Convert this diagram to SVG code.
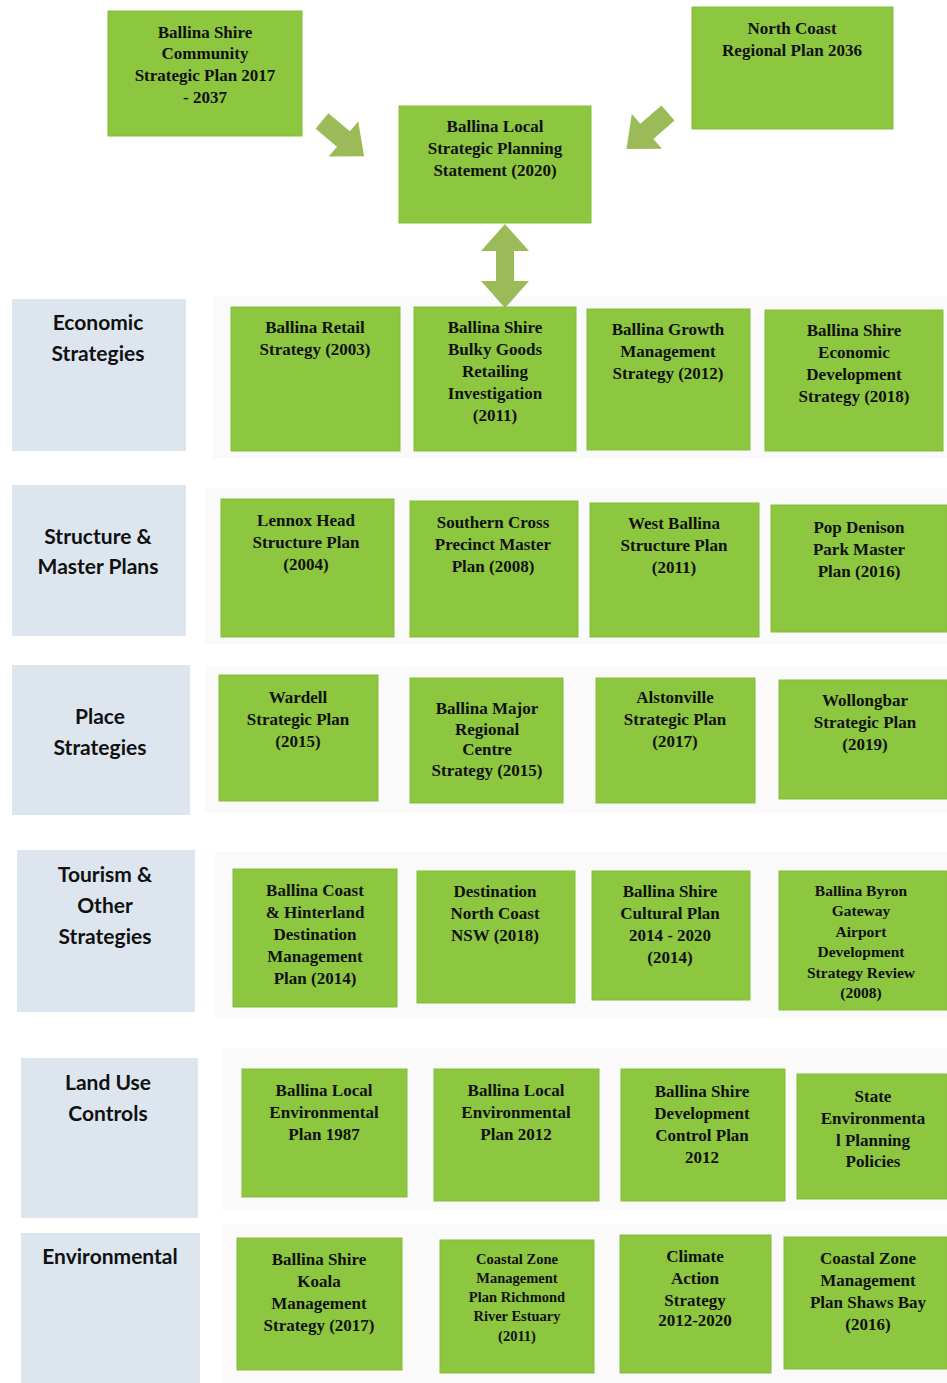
<svg xmlns="http://www.w3.org/2000/svg" width="947" height="1383" viewBox="0 0 947 1383">
  <defs>
    <style>
      .g { fill: #8dc63f; stroke: #86bd3a; stroke-width: 1; }
      .cat { fill: #dde6ef; }
      .band { fill: #fafafa; }
      .t { font-family: "Liberation Serif", "Times New Roman", serif; font-weight: bold; font-size: 17px; fill: #111; text-anchor: middle; }
      .ts { font-size: 15.5px; }
      .tx { font-size: 14.5px; }
      .c { font-family: Lato, "Liberation Sans", sans-serif; font-weight: bold; font-size: 21px; fill: #111; text-anchor: middle; }
      .arw { fill: #9bbb59; }
    </style>
    <!-- block arrow pointing along +x, tail at origin -->
    <polygon id="blockArrow" points="0,-10 28,-10 28,-23 55,0 28,23 28,10 0,10"/>
  </defs>

  <rect width="947" height="1383" fill="#ffffff"/>

  <!-- faint row bands -->
  <g id="bands">
    <rect class="band" x="213" y="296" width="734" height="163"/>
    <rect class="band" x="205" y="488" width="742" height="156"/>
    <rect class="band" x="205" y="666" width="742" height="147"/>
    <rect class="band" x="215" y="852" width="732" height="165"/>
    <rect class="band" x="222" y="1048" width="725" height="162"/>
    <rect class="band" x="222" y="1224" width="725" height="159"/>
  </g>

  <!-- connectors -->
  <g id="connectors">
    <use href="#blockArrow" class="arw" transform="translate(322,121) rotate(40)"/>
    <use href="#blockArrow" class="arw" transform="translate(668,113) rotate(139)"/>
    <polygon class="arw" points="505,224 529,251 514,251 514,281 529,281 505,308 481,281 496,281 496,251 481,251"/>
  </g>

  <!-- top level plans -->
  <g id="community-plan">
    <rect class="g" x="108" y="11" width="194" height="125"/>
    <text class="t" x="205" y="38">Ballina Shire</text>
    <text class="t" x="205" y="59">Community</text>
    <text class="t" x="205" y="81">Strategic Plan 2017</text>
    <text class="t" x="205" y="103">- 2037</text>
  </g>
  <g id="north-coast-plan">
    <rect class="g" x="692" y="7" width="201" height="122"/>
    <text class="t" x="792" y="34">North Coast</text>
    <text class="t" x="792" y="56">Regional Plan 2036</text>
  </g>
  <g id="lsps">
    <rect class="g" x="399" y="106" width="192" height="117"/>
    <text class="t" x="495" y="132">Ballina Local</text>
    <text class="t" x="495" y="154">Strategic Planning</text>
    <text class="t" x="495" y="176">Statement (2020)</text>
  </g>

  <!-- Economic Strategies -->
  <g id="cat-economic">
    <rect class="cat" x="12" y="299" width="174" height="152"/>
    <text class="c" x="98" y="330">Economic</text>
    <text class="c" x="98" y="361">Strategies</text>
  </g>
  <g id="retail-strategy">
    <rect class="g" x="231" y="307" width="169" height="144"/>
    <text class="t" x="315" y="333">Ballina Retail</text>
    <text class="t" x="315" y="355">Strategy (2003)</text>
  </g>
  <g id="bulky-goods">
    <rect class="g" x="414" y="307" width="162" height="144"/>
    <text class="t" x="495" y="333">Ballina Shire</text>
    <text class="t" x="495" y="355">Bulky Goods</text>
    <text class="t" x="495" y="377">Retailing</text>
    <text class="t" x="495" y="399">Investigation</text>
    <text class="t" x="495" y="421">(2011)</text>
  </g>
  <g id="growth-management">
    <rect class="g" x="587" y="309" width="163" height="141"/>
    <text class="t" x="668" y="335">Ballina Growth</text>
    <text class="t" x="668" y="357">Management</text>
    <text class="t" x="668" y="379">Strategy (2012)</text>
  </g>
  <g id="economic-development">
    <rect class="g" x="765" y="310" width="178" height="141"/>
    <text class="t" x="854" y="336">Ballina Shire</text>
    <text class="t" x="854" y="358">Economic</text>
    <text class="t" x="854" y="380">Development</text>
    <text class="t" x="854" y="402">Strategy (2018)</text>
  </g>

  <!-- Structure & Master Plans -->
  <g id="cat-structure">
    <rect class="cat" x="12" y="485" width="174" height="151"/>
    <text class="c" x="98" y="544">Structure &amp;</text>
    <text class="c" x="98" y="574">Master Plans</text>
  </g>
  <g id="lennox-head">
    <rect class="g" x="221" y="499" width="173" height="138"/>
    <text class="t" x="306" y="526">Lennox Head</text>
    <text class="t" x="306" y="548">Structure Plan</text>
    <text class="t" x="306" y="570">(2004)</text>
  </g>
  <g id="southern-cross">
    <rect class="g" x="410" y="501" width="168" height="136"/>
    <text class="t" x="493" y="528">Southern Cross</text>
    <text class="t" x="493" y="550">Precinct Master</text>
    <text class="t" x="493" y="572">Plan (2008)</text>
  </g>
  <g id="west-ballina">
    <rect class="g" x="590" y="503" width="169" height="134"/>
    <text class="t" x="674" y="529">West Ballina</text>
    <text class="t" x="674" y="551">Structure Plan</text>
    <text class="t" x="674" y="573">(2011)</text>
  </g>
  <g id="pop-denison">
    <rect class="g" x="771" y="505" width="176" height="127"/>
    <text class="t" x="859" y="533">Pop Denison</text>
    <text class="t" x="859" y="555">Park Master</text>
    <text class="t" x="859" y="577">Plan (2016)</text>
  </g>

  <!-- Place Strategies -->
  <g id="cat-place">
    <rect class="cat" x="12" y="665" width="178" height="150"/>
    <text class="c" x="100" y="724">Place</text>
    <text class="c" x="100" y="755">Strategies</text>
  </g>
  <g id="wardell">
    <rect class="g" x="219" y="675" width="159" height="126"/>
    <text class="t" x="298" y="703">Wardell</text>
    <text class="t" x="298" y="725">Strategic Plan</text>
    <text class="t" x="298" y="747">(2015)</text>
  </g>
  <g id="major-regional-centre">
    <rect class="g" x="410" y="678" width="153" height="125"/>
    <text class="t" x="487" y="714">Ballina Major</text>
    <text class="t" x="487" y="735">Regional</text>
    <text class="t" x="487" y="755">Centre</text>
    <text class="t" x="487" y="776">Strategy (2015)</text>
  </g>
  <g id="alstonville">
    <rect class="g" x="596" y="678" width="159" height="125"/>
    <text class="t" x="675" y="703">Alstonville</text>
    <text class="t" x="675" y="725">Strategic Plan</text>
    <text class="t" x="675" y="747">(2017)</text>
  </g>
  <g id="wollongbar">
    <rect class="g" x="779" y="680" width="168" height="119"/>
    <text class="t" x="865" y="706">Wollongbar</text>
    <text class="t" x="865" y="728">Strategic Plan</text>
    <text class="t" x="865" y="750">(2019)</text>
  </g>

  <!-- Tourism & Other Strategies -->
  <g id="cat-tourism">
    <rect class="cat" x="17" y="850" width="178" height="162"/>
    <text class="c" x="105" y="882">Tourism &amp;</text>
    <text class="c" x="105" y="913">Other</text>
    <text class="c" x="105" y="944">Strategies</text>
  </g>
  <g id="destination-management">
    <rect class="g" x="233" y="869" width="164" height="138"/>
    <text class="t" x="315" y="896">Ballina Coast</text>
    <text class="t" x="315" y="918">&amp; Hinterland</text>
    <text class="t" x="315" y="940">Destination</text>
    <text class="t" x="315" y="962">Management</text>
    <text class="t" x="315" y="984">Plan (2014)</text>
  </g>
  <g id="destination-north-coast">
    <rect class="g" x="417" y="871" width="158" height="132"/>
    <text class="t" x="495" y="897">Destination</text>
    <text class="t" x="495" y="919">North Coast</text>
    <text class="t" x="495" y="941">NSW (2018)</text>
  </g>
  <g id="cultural-plan">
    <rect class="g" x="592" y="871" width="158" height="129"/>
    <text class="t" x="670" y="897">Ballina Shire</text>
    <text class="t" x="670" y="919">Cultural Plan</text>
    <text class="t" x="670" y="941">2014 - 2020</text>
    <text class="t" x="670" y="963">(2014)</text>
  </g>
  <g id="airport-strategy">
    <rect class="g" x="779" y="871" width="168" height="139"/>
    <text class="t ts" x="861" y="896">Ballina Byron</text>
    <text class="t ts" x="861" y="916">Gateway</text>
    <text class="t ts" x="861" y="937">Airport</text>
    <text class="t ts" x="861" y="957">Development</text>
    <text class="t ts" x="861" y="978">Strategy Review</text>
    <text class="t ts" x="861" y="998">(2008)</text>
  </g>

  <!-- Land Use Controls -->
  <g id="cat-land-use">
    <rect class="cat" x="21" y="1058" width="177" height="160"/>
    <text class="c" x="108" y="1090">Land Use</text>
    <text class="c" x="108" y="1121">Controls</text>
  </g>
  <g id="lep-1987">
    <rect class="g" x="242" y="1069" width="165" height="128"/>
    <text class="t" x="324" y="1096">Ballina Local</text>
    <text class="t" x="324" y="1118">Environmental</text>
    <text class="t" x="324" y="1140">Plan 1987</text>
  </g>
  <g id="lep-2012">
    <rect class="g" x="434" y="1069" width="165" height="132"/>
    <text class="t" x="516" y="1096">Ballina Local</text>
    <text class="t" x="516" y="1118">Environmental</text>
    <text class="t" x="516" y="1140">Plan 2012</text>
  </g>
  <g id="dcp-2012">
    <rect class="g" x="621" y="1069" width="164" height="132"/>
    <text class="t" x="702" y="1097">Ballina Shire</text>
    <text class="t" x="702" y="1119">Development</text>
    <text class="t" x="702" y="1141">Control Plan</text>
    <text class="t" x="702" y="1163">2012</text>
  </g>
  <g id="sepp">
    <rect class="g" x="797" y="1074" width="150" height="125"/>
    <text class="t" x="873" y="1102">State</text>
    <text class="t" x="873" y="1124">Environmenta</text>
    <text class="t" x="873" y="1146">l Planning</text>
    <text class="t" x="873" y="1167">Policies</text>
  </g>

  <!-- Environmental -->
  <g id="cat-environmental">
    <rect class="cat" x="21" y="1233" width="179" height="150"/>
    <text class="c" x="110" y="1264">Environmental</text>
  </g>
  <g id="koala-strategy">
    <rect class="g" x="237" y="1238" width="165" height="132"/>
    <text class="t" x="319" y="1265">Ballina Shire</text>
    <text class="t" x="319" y="1287">Koala</text>
    <text class="t" x="319" y="1309">Management</text>
    <text class="t" x="319" y="1331">Strategy (2017)</text>
  </g>
  <g id="czmp-richmond">
    <rect class="g" x="440" y="1240" width="154" height="133"/>
    <text class="t tx" x="517" y="1264">Coastal Zone</text>
    <text class="t tx" x="517" y="1283">Management</text>
    <text class="t tx" x="517" y="1302">Plan Richmond</text>
    <text class="t tx" x="517" y="1321">River Estuary</text>
    <text class="t tx" x="517" y="1341">(2011)</text>
  </g>
  <g id="climate-action">
    <rect class="g" x="620" y="1235" width="151" height="138"/>
    <text class="t" x="695" y="1262">Climate</text>
    <text class="t" x="695" y="1284">Action</text>
    <text class="t" x="695" y="1306">Strategy</text>
    <text class="t" x="695" y="1326">2012-2020</text>
  </g>
  <g id="czmp-shaws-bay">
    <rect class="g" x="784" y="1237" width="163" height="132"/>
    <text class="t" x="868" y="1264">Coastal Zone</text>
    <text class="t" x="868" y="1286">Management</text>
    <text class="t" x="868" y="1308">Plan Shaws Bay</text>
    <text class="t" x="868" y="1330">(2016)</text>
  </g>
</svg>
